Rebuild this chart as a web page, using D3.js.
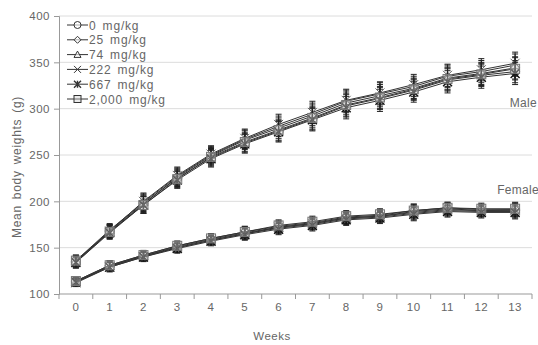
<!DOCTYPE html>
<html>
<head>
<meta charset="utf-8">
<script src="https://cdn.jsdelivr.net/npm/d3@7"></script>
<style>
  body { margin: 0; background: #fff; }
  svg text { font-family: "Liberation Sans", Arial, sans-serif; fill: #666; }
</style>
</head>
<body>
<div id="chart"></div>
<script>
const weeks = [0, 1, 2, 3, 4, 5, 6, 7, 8, 9, 10, 11, 12, 13];
const yTicks = [100, 150, 200, 250, 300, 350, 400];
const doseLabels = ['0 mg/kg', '25 mg/kg', '74 mg/kg', '222 mg/kg', '667 mg/kg', '2,000 mg/kg'];
const markerTypes = ['circle', 'diamond', 'triangle', 'cross', 'asterisk', 'square'];

// male groups
const male0 = [135, 168, 198, 225, 247, 263, 276, 289, 303, 311, 320, 331, 336, 340];
const male25 = [134, 167, 197, 226, 249, 266, 279, 292, 306, 314, 322, 333, 338, 344];
const male74 = [136, 169, 199, 227, 250, 267, 281, 294, 308, 316, 324, 335, 340, 347];
const male222 = [135, 168, 200, 228, 251, 268, 283, 296, 309, 317, 326, 336, 342, 349];
const male667 = [134, 166, 196, 223, 246, 262, 275, 288, 301, 309, 318, 329, 334, 338];
const male2000 = [136, 167, 196, 224, 248, 264, 277, 290, 304, 312, 321, 332, 337, 343];
const maleSd = [6, 7, 9, 9, 9, 10, 11, 12, 12, 12, 11, 12, 12, 12];

// female groups
const female0 = [113, 130, 141, 151, 159, 166, 172, 176, 182, 184, 188, 191, 190, 190];
const female25 = [114, 131, 142, 152, 160, 167, 173, 177, 183, 185, 190, 193, 191, 191];
const female74 = [113, 130, 141, 150, 158, 165, 171, 175, 181, 183, 187, 190, 189, 189];
const female222 = [112, 129, 140, 150, 158, 165, 172, 176, 182, 184, 189, 192, 190, 191];
const female667 = [113, 129, 140, 149, 157, 164, 170, 174, 180, 182, 186, 189, 188, 188];
const female2000 = [114, 131, 142, 152, 160, 167, 174, 178, 184, 186, 190, 193, 192, 192];
const femaleSd = [4, 5, 5, 5, 5, 6, 6, 6, 6, 6, 7, 6, 6, 7];

const maleGroups = [male0, male25, male74, male222, male667, male2000];
const femaleGroups = [female0, female25, female74, female222, female667, female2000];
const markerColors = ['#666', '#888', '#777', '#666', '#111', '#777'];

const width = 538, height = 345;
const margin = { top: 16, right: 6, bottom: 51, left: 59 };
const innerW = width - margin.left - margin.right;
const innerH = height - margin.top - margin.bottom;

const svg = d3.select('#chart').append('svg')
  .attr('width', width)
  .attr('height', height);

const g = svg.append('g')
  .attr('transform', `translate(${margin.left},${margin.top})`);

const x = d3.scaleBand().domain(weeks).range([0, innerW]);
const y = d3.scaleLinear().domain([100, 400]).range([innerH, 0]);
const cx = d => x(d) + x.bandwidth() / 2;

// gridlines
g.selectAll('.grid').data(yTicks.filter(t => t > 100)).enter()
  .append('line')
  .attr('x1', 0).attr('x2', innerW)
  .attr('y1', d => y(d)).attr('y2', d => y(d))
  .attr('stroke', '#dcdcdc').attr('stroke-width', 1);

// y axis
const yAxis = g.append('g')
  .call(d3.axisLeft(y).tickValues(yTicks).tickSize(5).tickPadding(4));
yAxis.select('.domain').attr('stroke', '#999');
yAxis.selectAll('.tick line').attr('stroke', '#999');
yAxis.selectAll('text').attr('font-size', 11.5).attr('fill', '#666').style('letter-spacing', '0.5px');

// x axis (ticks at band boundaries)
const xAxisG = g.append('g').attr('transform', `translate(0,${innerH})`);
xAxisG.append('line').attr('x1', 0).attr('x2', innerW).attr('stroke', '#999');
xAxisG.selectAll('.bt').data(d3.range(weeks.length + 1)).enter()
  .append('line')
  .attr('x1', i => i * x.step()).attr('x2', i => i * x.step())
  .attr('y1', 0).attr('y2', 5)
  .attr('stroke', '#999');
xAxisG.selectAll('.lbl').data(weeks).enter()
  .append('text')
  .attr('x', d => cx(d)).attr('y', 17)
  .attr('text-anchor', 'middle')
  .attr('font-size', 11.5)
  .style('letter-spacing', '0.5px')
  .text(d => d);

// axis titles
svg.append('text')
  .attr('x', 272).attr('y', 340)
  .attr('text-anchor', 'middle')
  .attr('font-size', 11.5)
  .style('letter-spacing', '0.5px')
  .text('Weeks');
svg.append('text')
  .attr('transform', 'translate(21,167) rotate(-90)')
  .attr('text-anchor', 'middle')
  .attr('font-size', 12)
  .style('letter-spacing', '0.7px')
  .style('word-spacing', '2px')
  .text('Mean body weights (g)');

function drawMarker(sel, type, color, s) {
  const h = s / 2;
  if (type === 'circle') {
    sel.append('circle').attr('r', h).attr('fill', '#fff').attr('fill-opacity', 0.6).attr('stroke', color);
  } else if (type === 'diamond') {
    sel.append('path').attr('d', `M0,${-h}L${h},0L0,${h}L${-h},0Z`).attr('fill', '#fff').attr('fill-opacity', 0.6).attr('stroke', color);
  } else if (type === 'triangle') {
    sel.append('path').attr('d', `M0,${-h}L${h},${h * 0.8}L${-h},${h * 0.8}Z`).attr('fill', '#fff').attr('fill-opacity', 0.6).attr('stroke', color);
  } else if (type === 'cross') {
    sel.append('path').attr('d', `M${-h},${-h}L${h},${h}M${-h},${h}L${h},${-h}`).attr('stroke', color);
  } else if (type === 'asterisk') {
    sel.append('path').attr('d', `M${-h},${-h}L${h},${h}M${-h},${h}L${h},${-h}M0,${-h}L0,${h}`).attr('stroke', color).attr('stroke-width', 1.4);
  } else {
    sel.append('rect').attr('x', -h).attr('y', -h).attr('width', s).attr('height', s).attr('fill', '#ccc').attr('fill-opacity', 0.4).attr('stroke', color);
  }
}

const line = d3.line().x((d, i) => cx(weeks[i])).y(d => y(d));

function drawGroup(values, sd, idx) {
  const grp = g.append('g');
  // error bars
  values.forEach((v, i) => {
    const xx = cx(weeks[i]);
    grp.append('line').attr('x1', xx).attr('x2', xx)
      .attr('y1', y(v - sd[i])).attr('y2', y(v + sd[i]))
      .attr('stroke', '#222').attr('stroke-width', 1);
    [v - sd[i], v + sd[i]].forEach(e => {
      grp.append('line').attr('x1', xx - 3).attr('x2', xx + 3)
        .attr('y1', y(e)).attr('y2', y(e))
        .attr('stroke', '#222').attr('stroke-width', 1);
    });
  });
  grp.append('path').datum(values)
    .attr('d', line)
    .attr('fill', 'none')
    .attr('stroke', '#333')
    .attr('stroke-width', 1);
  values.forEach((v, i) => {
    const m = grp.append('g').attr('transform', `translate(${cx(weeks[i])},${y(v)})`);
    drawMarker(m, markerTypes[idx], markerColors[idx], 9);
  });
}

femaleGroups.forEach((vals, i) => drawGroup(vals, femaleSd, i));
maleGroups.forEach((vals, i) => drawGroup(vals, maleSd, i));

// sex labels
svg.append('text').attr('x', 537).attr('y', 107).attr('text-anchor', 'end').attr('font-size', 12).style('letter-spacing', '0.3px').text('Male');
svg.append('text').attr('x', 539).attr('y', 194).attr('text-anchor', 'end').attr('font-size', 12).style('letter-spacing', '0.3px').text('Female');

// legend
const legend = svg.append('g').attr('transform', 'translate(67,25)');
doseLabels.forEach((lab, i) => {
  const row = legend.append('g').attr('transform', `translate(0,${i * 14.8})`);
  row.append('line').attr('x1', 0).attr('x2', 21).attr('stroke', '#333');
  const m = row.append('g').attr('transform', 'translate(10.5,0)');
  drawMarker(m, markerTypes[i], '#333', 7);
  row.append('text').attr('x', 22).attr('y', 4.5)
    .attr('font-size', 12)
    .attr('fill', '#555')
    .style('letter-spacing', '0.8px')
    .style('word-spacing', '2px')
    .text(lab);
});
</script>
</body>
</html>
